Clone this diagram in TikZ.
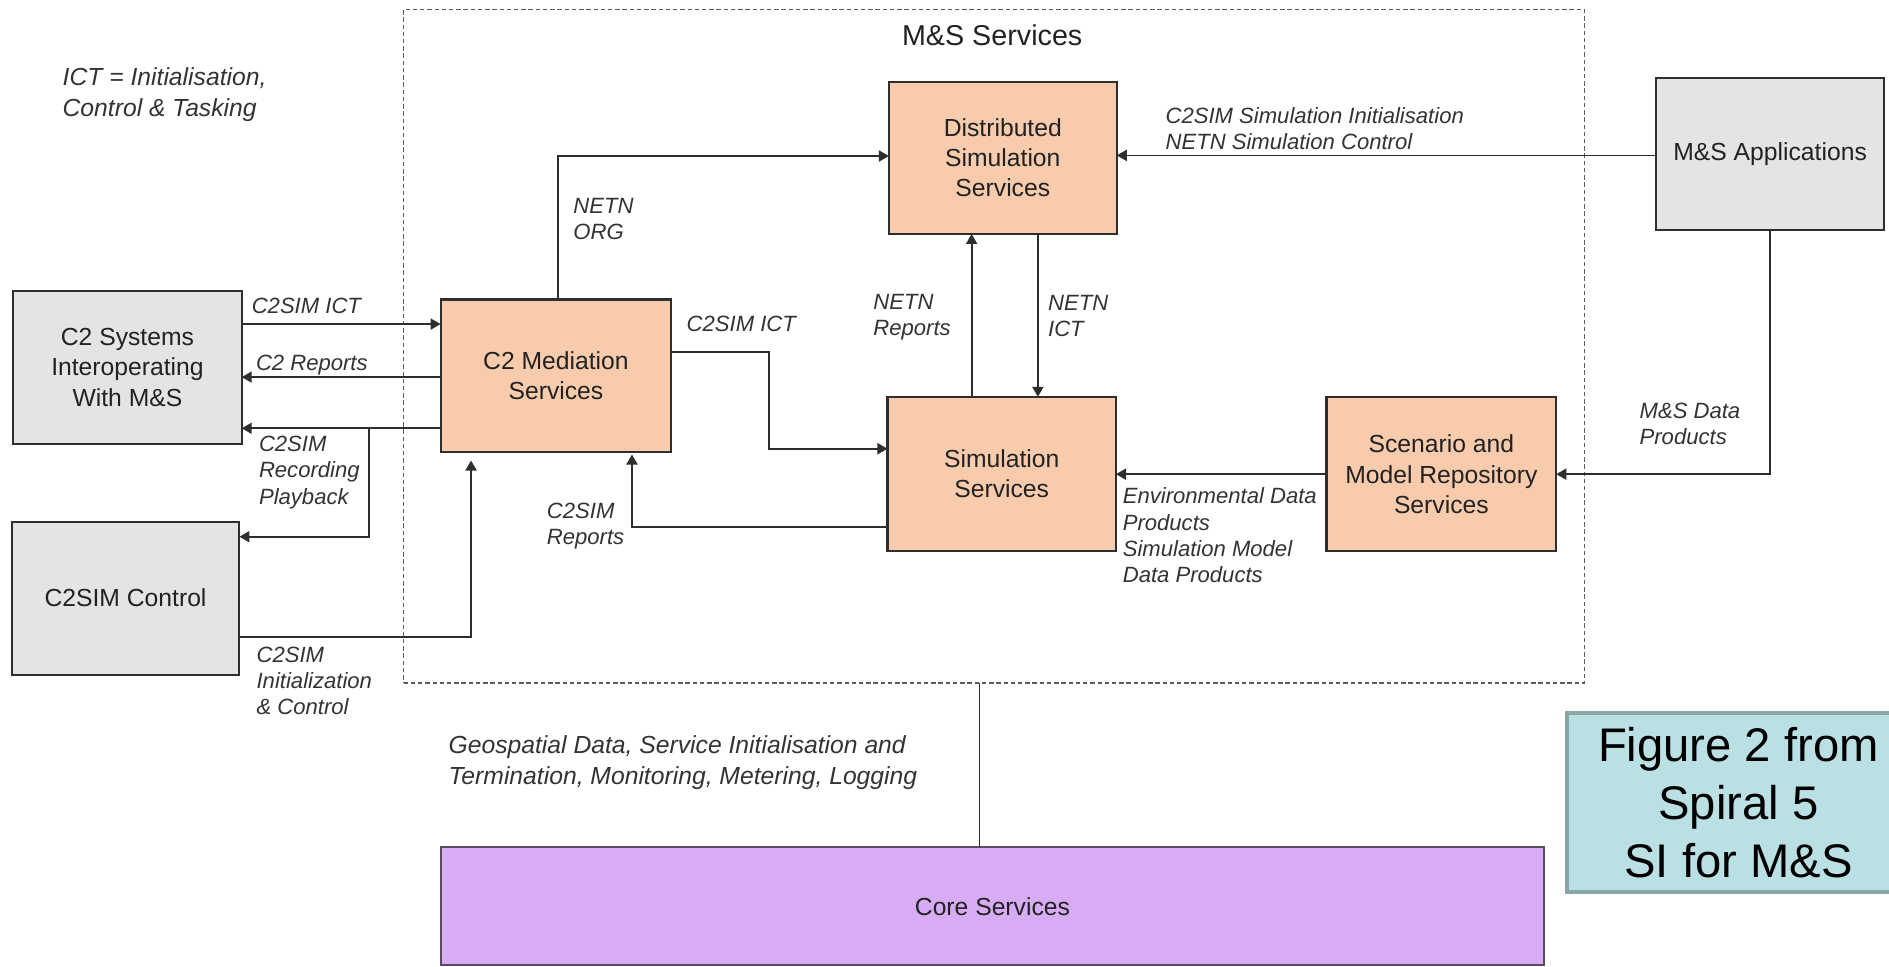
\documentclass[tikz,border=0pt]{standalone}
\usepackage{fontspec}
\setmainfont{Liberation Sans}
\usetikzlibrary{arrows.meta}
\definecolor{peach}{HTML}{F8CBAD}
\definecolor{boxgray}{HTML}{E4E4E4}
\definecolor{corepurple}{HTML}{D8ACF5}
\definecolor{coreedge}{HTML}{5A4A63}
\definecolor{noteteal}{HTML}{BAE0E3}
\definecolor{noteedge}{HTML}{8AA6A8}
\definecolor{ink}{HTML}{222222}
\definecolor{lblclr}{HTML}{333333}
\definecolor{lineclr}{HTML}{2E2E2E}
\definecolor{dashclr}{HTML}{5C5C5C}
\begin{document}
\begin{tikzpicture}[x=0.6pt,y=-0.6pt,
  every node/.style={inner sep=0pt, outer sep=0pt},
  svc/.style={draw=lineclr, line width=1.1pt, fill=peach, align=center, text=ink,
    font=\fontsize{12.3}{15}\selectfont},
  ext/.style={svc, fill=boxgray},
  arr/.style={draw=lineclr, line width=0.9pt, -{Triangle[length=5pt,width=5.5pt]}},
  plain/.style={draw=lineclr, line width=0.9pt},
  lbl/.style={anchor=north west, align=left, text=lblclr,
    font=\fontsize{11}{13.1}\selectfont\itshape},
  biglbl/.style={anchor=north west, align=left, text=lblclr,
    font=\fontsize{12.3}{15.6}\selectfont\itshape}]
\clip (0,0) rectangle (1568,802);
\useasboundingbox (0,0) rectangle (1568,802);

% M&S Services dashed frame
\node[draw=dashclr, line width=0.7pt, dash pattern=on 2.2pt off 1.4pt,
      minimum width=588pt, minimum height=335.6pt] (msbox) at (825,287.4) {};
\node[text=ink, font=\fontsize{14.3}{16}\selectfont] (mstitle) at (823.6,29) {M\&S Services};

% boxes
\node[svc, minimum width=113.5pt, minimum height=75.8pt] (dist) at (832.4,131)
  {Distributed\\Simulation\\Services};
\node[ext, minimum width=113.6pt, minimum height=75.6pt] (msa) at (1469.3,128)
  {M\&S Applications};
\node[ext, minimum width=113.8pt, minimum height=76.4pt] (c2sys) at (105.8,305)
  {C2 Systems\\Interoperating\\With M\&S};
\node[svc, minimum width=114.9pt, minimum height=76pt] (c2med) at (461.5,311.9)
  {C2 Mediation\\Services};
\node[svc, minimum width=113.8pt, minimum height=76.8pt] (sim) at (831.5,393.4)
  {Simulation\\Services};
\node[svc, minimum width=114.5pt, minimum height=76.7pt] (scen) at (1196.4,393.6)
  {Scenario and\\Model Repository\\Services};
\node[ext, minimum width=113.4pt, minimum height=76.2pt] (c2ctl) at (104.2,496.5)
  {C2SIM Control};
\node[draw=coreedge, line width=1pt, fill=corepurple, text=ink,
      font=\fontsize{12.3}{15}\selectfont,
      minimum width=549.4pt, minimum height=59pt] (core) at (823.8,752.2) {Core Services};
\node[draw=noteedge, line width=2pt, fill=noteteal, align=center, text=black,
      font=\fontsize{23.5}{28.8}\selectfont,
      minimum width=171pt, minimum height=88.8pt] (note) at (1443,666)
  {Figure 2 from\\Spiral 5\\SI for M\&S};

% explanatory note
\node[biglbl] (ictnote) at (52,55.8) {ICT = Initialisation,\\Control \& Tasking};

% connectors
\coordinate (orgturn) at (463,129.5);
\draw[arr] (c2med.north -| orgturn) |- (dist.west |- orgturn);

\draw[arr] (msa.west |- 0,129) -- (dist.east |- 0,129);

\draw[arr] (c2sys.east |- 0,269) -- (c2med.west |- 0,269);
\draw[arr] (c2med.west |- 0,313) -- (c2sys.east |- 0,313);
\draw[arr] (c2med.west |- 0,355.5) -- (c2sys.east |- 0,355.5);
\coordinate (recsplit) at (306,355.5);
\draw[arr] (recsplit) |- (c2ctl.east |- 0,445.5);

\coordinate (initturn) at (391,529);
\draw[arr, shorten >=4.2pt] (c2ctl.east |- initturn) -| (c2med.south -| initturn);

\coordinate (ictturn) at (638,292.5);
\coordinate (ictdown) at (638,372.5);
\draw[arr] (c2med.east |- ictturn) -- (ictturn) -- (ictdown) -- (sim.west |- ictdown);

\draw[arr] (sim.north -| 806.5,0) -- (dist.south -| 806.5,0);
\draw[arr] (dist.south -| 861.5,0) -- (sim.north -| 861.5,0);

\coordinate (repturn) at (524.6,437.6);
\draw[arr, shorten >=1.2pt] (sim.west |- repturn) -| (c2med.south -| repturn);

\draw[arr] (scen.west |- 0,393.6) -- (sim.east |- 0,393.6);

\coordinate (dataturn) at (1469.3,393.6);
\draw[arr] (msa.south -| dataturn) |- (scen.east |- dataturn);

\draw[plain] (msbox.south -| 813,0) -- (core.north -| 813,0);

% connector labels
\node[lbl] (lictl) at (209,247.4) {C2SIM ICT};
\node[lbl] (lrepl) at (212.5,295) {C2 Reports};
\node[lbl] (lrec) at (215,362) {C2SIM\\Recording\\Playback};
\node[lbl] (linit) at (213,537) {C2SIM\\Initialization\\\& Control};
\node[lbl] (lorg) at (476,164.5) {NETN\\ORG};
\node[lbl] (lictm) at (570,262) {C2SIM ICT};
\node[lbl] (lnrep) at (725,244) {NETN\\Reports};
\node[lbl] (lnict) at (870,245) {NETN\\ICT};
\node[lbl] (lsiminit) at (967.5,89) {C2SIM Simulation Initialisation\\NETN Simulation Control};
\node[lbl] (lmsdata) at (1361,334.5) {M\&S Data\\Products};
\node[lbl] (lc2rep) at (454,417.4) {C2SIM\\Reports};
\node[lbl] (lenv) at (932,405) {Environmental Data\\Products\\Simulation Model\\Data Products};
\node[biglbl] (lgeo) at (372.4,610.7) {Geospatial Data, Service Initialisation and\\Termination, Monitoring, Metering, Logging};
\end{tikzpicture}
\end{document}
